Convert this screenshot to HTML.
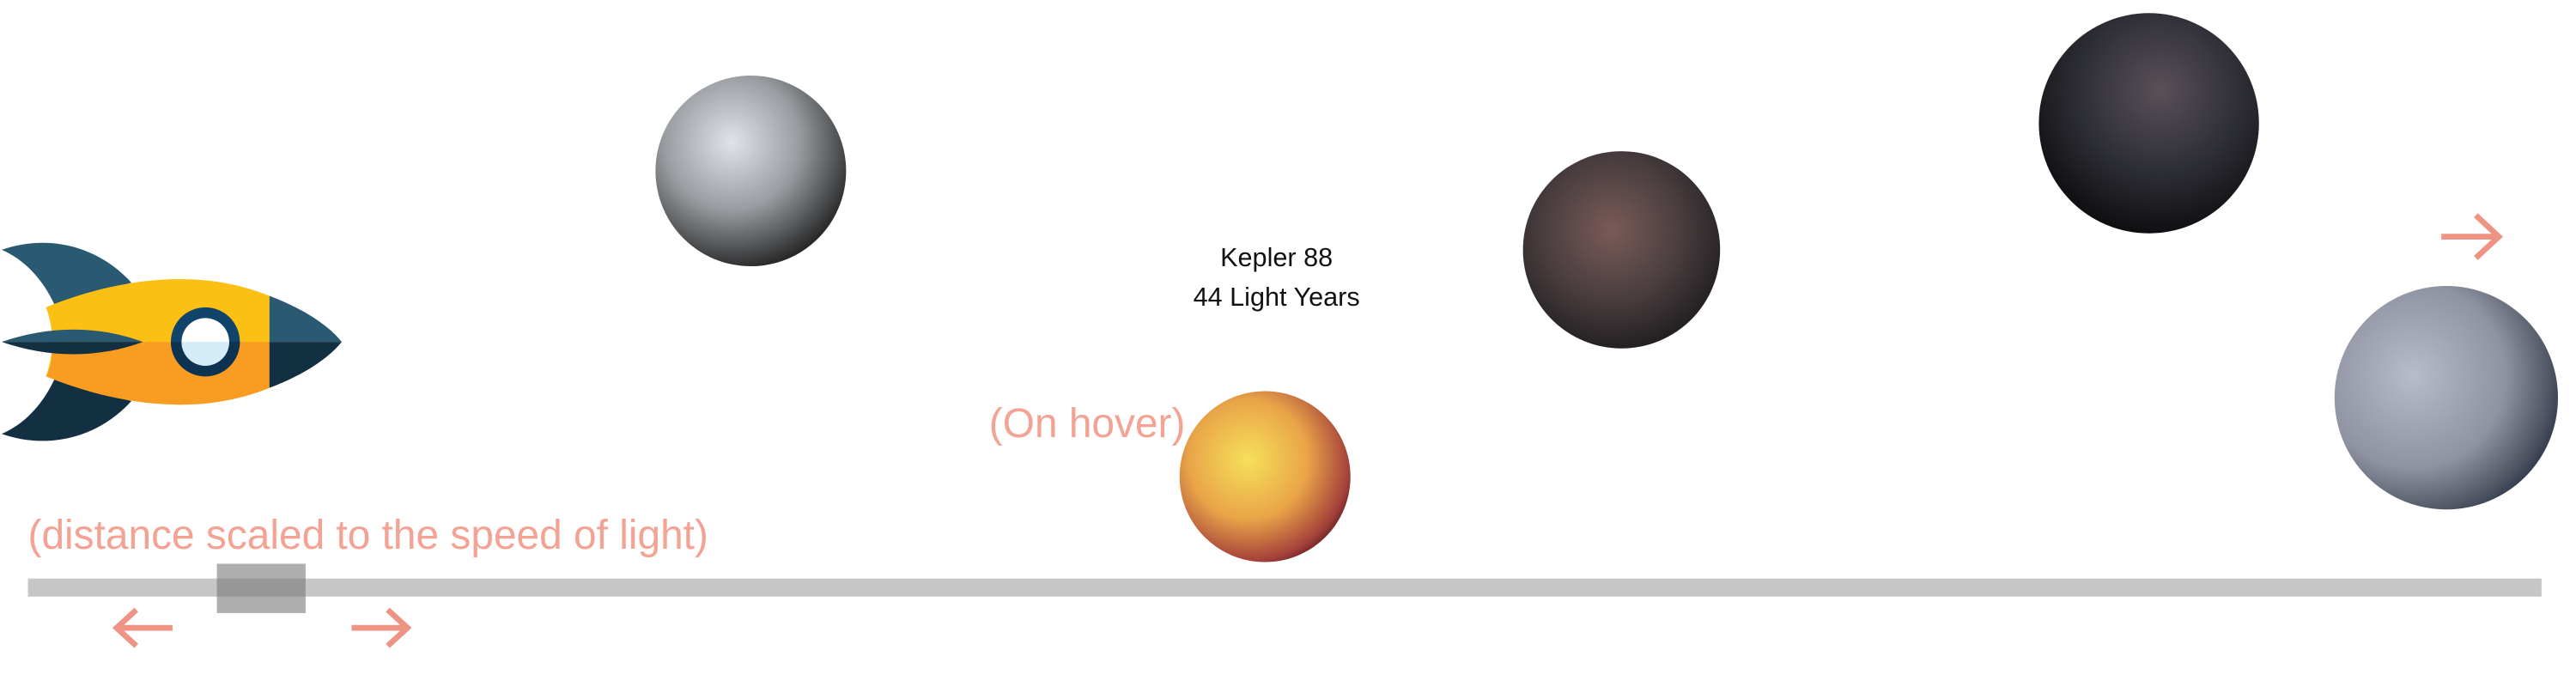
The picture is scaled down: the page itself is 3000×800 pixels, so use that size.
<!DOCTYPE html>
<html><head><meta charset="utf-8"><style>
html,body{margin:0;padding:0;background:#fff;overflow:hidden}
#root{width:3000px;height:800px;position:relative;overflow:hidden;background:#fff}
#stage{position:absolute;left:0;top:0;width:1568px;height:418px;transform-origin:0 0;transform:scale(1.9133,1.9139)}
.t{position:absolute;font-family:"Liberation Sans",sans-serif;white-space:nowrap}
</style></head><body>
<div id="root">
<div id="stage">
<svg width="1568" height="418" viewBox="0 0 1568 418" style="position:absolute;left:0;top:0">
<defs>
<radialGradient id="g1" cx="40%" cy="35%" r="70%"><stop offset="0" stop-color="#e0e4e8"/><stop offset="0.5" stop-color="#9a9ea2"/><stop offset="1" stop-color="#1e1e1e"/></radialGradient>
<radialGradient id="g2" cx="40%" cy="40%" r="70%"><stop offset="0" stop-color="#f6e05a"/><stop offset="0.5" stop-color="#e9a448"/><stop offset="0.85" stop-color="#a4403a"/><stop offset="1" stop-color="#3a0f12"/></radialGradient>
<radialGradient id="g3" cx="45%" cy="40%" r="70%"><stop offset="0" stop-color="#7a5a58"/><stop offset="0.5" stop-color="#4a3e40"/><stop offset="1" stop-color="#151515"/></radialGradient>
<radialGradient id="g4" cx="55%" cy="35%" r="70%"><stop offset="0" stop-color="#5a5058"/><stop offset="0.5" stop-color="#303038"/><stop offset="1" stop-color="#0a0a0c"/></radialGradient>
<radialGradient id="g5" cx="35%" cy="40%" r="75%"><stop offset="0" stop-color="#b8bcc8"/><stop offset="0.55" stop-color="#8f93a2"/><stop offset="0.8" stop-color="#555a68"/><stop offset="1" stop-color="#1a2638"/></radialGradient>
</defs>
<g>
<path d="M1,152 C30,142 60,150 80,172 L33,185 C26,170 15,158 1,152Z" fill="#2a5a72"/>
<path d="M1,264 C30,274 60,266 80,244 L33,231 C26,246 15,258 1,264Z" fill="#132f42"/>
<path d="M28,187 C70,170 120,162 164,180 L164,236 C120,254 70,246 28,229 C33,215 33,200 28,187Z" fill="#fcc015"/>
<path d="M31,208 L164,208 L164,236 C120,254 70,246 28,229 C32,222 32,215 31,208Z" fill="#f89c22"/>
<path d="M164,180 C185,188 200,198 208,208 L164,208Z" fill="#2a5a72"/>
<path d="M164,208 L208,208 C200,218 185,228 164,236Z" fill="#132f42"/>
<path d="M1,208 C30,198 60,198 87,208 Z" fill="#2a5a72"/>
<path d="M1,208 C30,218 60,218 87,208 Z" fill="#132f42"/>
<circle cx="125" cy="208" r="21" fill="#10446a"/>
<path d="M104,208 a21,21 0 0 0 42,0Z" fill="#0d3350"/>
<circle cx="125" cy="208" r="14.5" fill="#fff"/>
<path d="M110.5,208 a14.5,14.5 0 0 0 29,0Z" fill="#d4ecf8"/>
</g>
<circle cx="457" cy="104" r="58" fill="url(#g1)"/>
<circle cx="770" cy="290" r="52" fill="url(#g2)"/>
<circle cx="987" cy="152" r="60" fill="url(#g3)"/>
<circle cx="1308" cy="75" r="67" fill="url(#g4)"/>
<circle cx="1489" cy="242" r="68" fill="url(#g5)"/>
<g stroke="#ef9484" stroke-width="3.5" fill="none">
<line x1="1486" y1="144" x2="1521" y2="144"/><polyline points="1507,131 1521,144 1507,157"/></g>
<rect x="17" y="352" width="1530" height="11" fill="#c6c6c6"/>
<rect x="132" y="343" width="54" height="30" fill="rgba(120,120,120,0.6)"/>
<g stroke="#ef9484" stroke-width="3.5" fill="none">
<g><line x1="71" y1="382" x2="105" y2="382"/><polyline points="83,371 71,382 83,393"/></g>
<g><line x1="214" y1="382" x2="248" y2="382"/><polyline points="236,371 248,382 236,393"/></g>
</g>
</svg>
<div class="t" style="left:677px;top:146px;width:200px;text-align:center;font-size:16px;line-height:24px;color:#111">Kepler 88<br>44 Light Years</div>
<div class="t" style="left:602px;top:244px;font-size:25px;color:#f4a294">(On hover)</div>
<div class="t" style="left:17px;top:312px;font-size:25px;color:#f4a294">(distance scaled to the speed of light)</div>
</div>
</div>
</body></html>
